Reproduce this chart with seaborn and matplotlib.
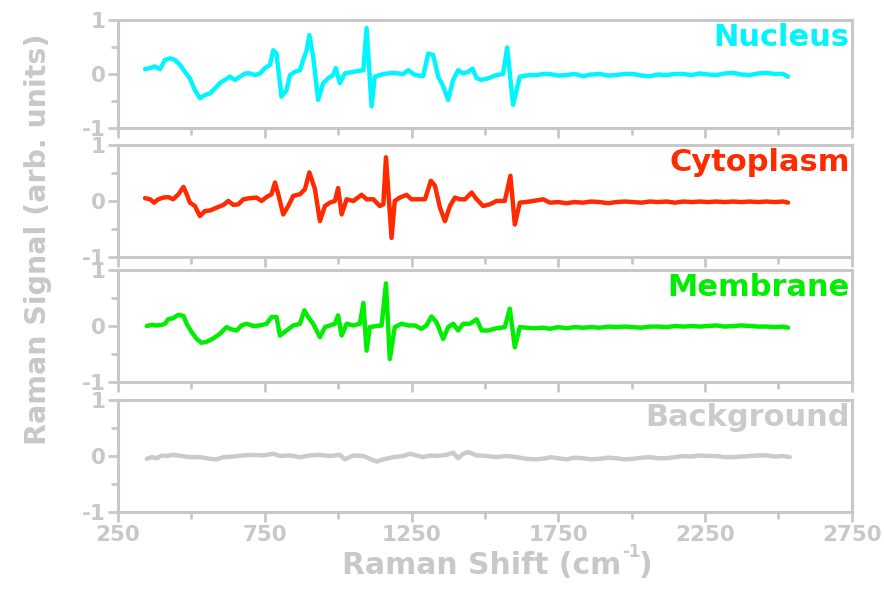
import matplotlib
matplotlib.use("Agg")
import matplotlib.pyplot as plt
from matplotlib.ticker import FixedLocator
import seaborn as sns

# 스펙트럼 데이터
nucleus_x = [342, 359, 376, 393, 410, 427, 444, 461, 478, 495, 512, 529, 546, 563, 580, 597,
             614, 631, 649, 666, 683, 700, 717, 734, 751, 768, 779, 790, 807, 824, 836, 853,
             870, 881, 893, 902, 915, 932, 949, 966, 983, 992, 1006, 1023, 1052, 1086, 1097,
             1114, 1125, 1154, 1188, 1222, 1239, 1262, 1290, 1307, 1324, 1341, 1358, 1375,
             1392, 1409, 1426, 1443, 1458, 1472, 1489, 1511, 1540, 1562, 1576, 1596, 1619,
             1650, 1676, 1700, 1721, 1750, 1778, 1805, 1835, 1862, 1892, 1920, 1948, 1976,
             2005, 2034, 2062, 2090, 2119, 2148, 2176, 2204, 2232, 2260, 2289, 2318, 2346,
             2375, 2403, 2431, 2459, 2488, 2516, 2533]
nucleus_y = [0.09, 0.11, 0.14, 0.09, 0.26, 0.29, 0.26, 0.17, 0.04, -0.08, -0.30, -0.45, -0.39,
             -0.36, -0.27, -0.17, -0.11, -0.05, -0.11, -0.05, 0.01, 0.01, -0.02, 0.01, 0.11,
             0.17, 0.44, 0.38, -0.42, -0.30, -0.02, 0.04, 0.07, 0.26, 0.44, 0.72, 0.32, -0.48,
             -0.17, -0.08, -0.02, 0.11, -0.17, 0.01, 0.04, 0.07, 0.85, -0.60, -0.05, 0.00,
             0.02, 0.00, 0.07, -0.02, -0.04, 0.38, 0.35, -0.05, -0.23, -0.48, -0.11, 0.07,
             0.01, 0.04, 0.10, -0.08, -0.11, -0.08, -0.02, 0.00, 0.49, -0.57, -0.05, -0.02,
             -0.02, 0.00, 0.00, -0.03, -0.02, 0.00, -0.04, -0.01, 0.00, -0.03, -0.02, 0.00,
             0.00, -0.03, -0.04, -0.01, -0.02, 0.00, 0.00, -0.02, 0.01, -0.01, -0.02, 0.01,
             0.02, -0.01, -0.02, 0.01, 0.02, 0.00, 0.00, -0.05]

cyto_x = [342, 359, 373, 387, 404, 421, 438, 456, 473, 484, 495, 512, 529, 546, 563, 586,
          609, 626, 643, 660, 677, 700, 722, 739, 756, 773, 785, 796, 813, 830, 847, 870,
          887, 902, 921, 938, 955, 972, 989, 1000, 1012, 1029, 1052, 1080, 1097, 1120, 1142,
          1154, 1163, 1182, 1193, 1210, 1233, 1250, 1267, 1296, 1316, 1330, 1347, 1364,
          1381, 1398, 1415, 1432, 1455, 1472, 1494, 1517, 1540, 1568, 1587, 1602, 1619,
          1653, 1676, 1699, 1721, 1750, 1778, 1805, 1835, 1862, 1892, 1920, 1948, 1976,
          2005, 2034, 2062, 2090, 2119, 2148, 2176, 2204, 2232, 2260, 2289, 2318, 2346,
          2375, 2403, 2431, 2459, 2488, 2516, 2533]
cyto_y = [0.05, 0.03, -0.03, 0.03, 0.06, 0.07, 0.03, 0.12, 0.25, 0.12, -0.03, -0.09, -0.27,
          -0.18, -0.17, -0.12, -0.07, 0.00, -0.07, -0.06, 0.03, 0.05, 0.06, 0.00, 0.07, 0.12,
          0.33, 0.12, -0.24, -0.09, 0.09, 0.12, 0.21, 0.51, 0.21, -0.36, -0.09, -0.03, 0.00,
          0.23, -0.24, 0.03, 0.00, 0.11, 0.03, 0.03, -0.09, -0.06, 0.78, -0.66, 0.00, 0.06,
          0.11, 0.03, 0.03, 0.03, 0.36, 0.27, -0.12, -0.36, -0.09, 0.06, 0.03, 0.03, 0.15,
          0.03, -0.09, -0.06, 0.00, 0.00, 0.45, -0.42, -0.03, -0.01, 0.01, 0.03, -0.03,
          -0.02, -0.04, -0.02, -0.03, -0.01, -0.02, -0.04, -0.02, -0.01, -0.02, -0.03, -0.01,
          -0.02, -0.01, -0.03, -0.01, -0.02, -0.01, -0.02, -0.01, -0.02, -0.01, -0.02, -0.01,
          -0.02, -0.01, -0.02, -0.01, -0.03]

memb_x = [348, 365, 382, 399, 410, 421, 438, 456, 473, 484, 501, 518, 535, 552, 575, 597,
          620, 637, 654, 671, 688, 711, 734, 756, 773, 790, 802, 824, 847, 870, 885, 898,
          915, 938, 955, 972, 989, 1000, 1012, 1029, 1052, 1074, 1086, 1097, 1108, 1131,
          1148, 1163, 1176, 1193, 1216, 1239, 1262, 1284, 1301, 1318, 1335, 1358, 1375,
          1392, 1409, 1426, 1449, 1472, 1489, 1511, 1540, 1568, 1585, 1602, 1619, 1665,
          1700, 1721, 1750, 1778, 1805, 1835, 1862, 1892, 1920, 1948, 1976, 2005, 2034,
          2062, 2090, 2119, 2148, 2176, 2204, 2232, 2260, 2289, 2318, 2346, 2375, 2403,
          2431, 2459, 2488, 2516, 2533]
memb_y = [0.00, 0.02, 0.01, 0.02, 0.04, 0.12, 0.14, 0.20, 0.18, 0.04, -0.11, -0.23, -0.30,
          -0.28, -0.22, -0.14, -0.02, -0.06, -0.08, 0.01, 0.04, 0.00, 0.01, 0.04, 0.16, 0.16,
          -0.17, -0.08, 0.01, 0.04, 0.28, 0.16, 0.04, -0.20, -0.02, 0.01, 0.04, 0.19, -0.17,
          0.04, 0.01, 0.04, 0.41, -0.44, -0.02, 0.00, 0.01, 0.76, -0.59, -0.02, 0.04, 0.01,
          0.01, -0.05, 0.01, 0.17, 0.07, -0.23, -0.02, 0.04, -0.08, 0.04, 0.04, 0.12, -0.08,
          -0.08, -0.04, -0.02, 0.31, -0.38, -0.02, -0.04, -0.03, -0.05, -0.02, -0.04, -0.02,
          -0.03, -0.02, -0.03, -0.01, -0.02, -0.01, -0.02, -0.03, -0.01, -0.01, -0.02, 0.00,
          -0.01, 0.00, -0.01, 0.00, 0.01, -0.01, 0.00, 0.01, 0.00, -0.01, -0.01, -0.02,
          -0.01, -0.03]

bg_x = [348, 365, 382, 399, 416, 438, 467, 495, 529, 563, 586, 609, 643, 677, 711, 745, 779,
        802, 836, 870, 904, 938, 972, 1006, 1023, 1052, 1086, 1108, 1131, 1154, 1188, 1222,
        1245, 1267, 1290, 1313, 1335, 1369, 1392, 1409, 1426, 1443, 1472, 1506, 1540, 1574,
        1608, 1642, 1676, 1710, 1721, 1750, 1778, 1805, 1835, 1862, 1892, 1920, 1948, 1976,
        2005, 2034, 2062, 2090, 2119, 2148, 2176, 2204, 2232, 2260, 2289, 2318, 2346, 2375,
        2403, 2431, 2459, 2488, 2516, 2539]
bg_y = [-0.05, -0.02, -0.04, 0.01, 0.00, 0.02, 0.00, -0.02, -0.02, -0.05, -0.06, -0.02,
        -0.01, 0.01, 0.02, 0.01, 0.04, 0.00, 0.01, -0.02, 0.01, 0.02, 0.00, 0.02, -0.06, 0.01,
        0.00, -0.05, -0.10, -0.06, -0.02, 0.00, 0.04, 0.01, -0.02, 0.01, 0.00, 0.02, 0.06,
        -0.04, 0.04, 0.07, 0.01, 0.00, -0.02, 0.00, -0.02, -0.05, -0.06, -0.04, -0.02, -0.04,
        -0.06, -0.03, -0.04, -0.06, -0.05, -0.03, -0.04, -0.06, -0.05, -0.03, -0.02, -0.04,
        -0.04, -0.02, 0.00, -0.01, 0.01, 0.00, 0.00, -0.02, -0.02, -0.01, 0.00, 0.01, 0.01,
        -0.01, 0.00, -0.02]

names = ["Nucleus", "Cytoplasm", "Membrane", "Background"]
colors = ["#00f6ff", "#ff2a00", "#00ee00", "#cbcbcb"]
series = [(nucleus_x, nucleus_y), (cyto_x, cyto_y), (memb_x, memb_y), (bg_x, bg_y)]

sns.set_style("white")
plt.rcParams['font.family'] = ['DejaVu Sans']
plt.rcParams['axes.unicode_minus'] = False
gray = "#c8c8c8"

fig = plt.figure(figsize=(8.84, 5.89), dpi=100)
# 패널 위치 (figure 비율)
rects = [[0.1335, 0.7827, 0.830, 0.1834],
         [0.1335, 0.5637, 0.830, 0.1902],
         [0.1335, 0.3514, 0.830, 0.1902],
         [0.1335, 0.1307, 0.830, 0.1902]]

for i, (name, c, (xs, ys)) in enumerate(zip(names, colors, series)):
    ax = fig.add_axes(rects[i])
    sns.lineplot(x=xs, y=ys, ax=ax, color=c, lw=3.2, sort=False)
    ax.set_xlim(250, 2750)
    ax.set_ylim(-1, 1)
    ax.set_yticks([-1, 0, 1])
    ax.yaxis.set_minor_locator(FixedLocator([-0.5, 0.5]))
    ax.xaxis.set_major_locator(FixedLocator([250, 750, 1250, 1750, 2250, 2750]))
    ax.xaxis.set_minor_locator(FixedLocator([500, 1000, 1500, 2000, 2500]))
    for s in ax.spines.values():
        s.set_color(gray)
        s.set_linewidth(2.2)
    ax.tick_params(which='both', direction='out', color=gray, width=2, labelcolor=gray,
                   labelsize=15.5, left=True, bottom=True)
    ax.tick_params(which='major', length=7, pad=2)
    ax.tick_params(which='minor', length=5)
    for lab in ax.get_yticklabels() + ax.get_xticklabels():
        lab.set_fontweight('bold')
    if i < 3:
        ax.tick_params(labelbottom=False)
    ax.text(0.997, 0.97, name, transform=ax.transAxes, ha='right', va='top',
            color=c, fontsize=22, fontweight='bold')

fig.text(0.545, 0.04, "Raman Shift (cm", ha='center', va='center',
         color=gray, fontsize=21.5, fontweight='bold')
fig.text(0.704, 0.062, "-1", ha='left', va='center',
         color=gray, fontsize=12, fontweight='bold')
fig.text(0.722, 0.04, ")", ha='left', va='center',
         color=gray, fontsize=21.5, fontweight='bold')
fig.text(0.043, 0.593, "Raman Signal (arb. units)", ha='center', va='center',
         rotation=90, color=gray, fontsize=20.5, fontweight='bold')

fig.savefig("out.png", dpi=100)
